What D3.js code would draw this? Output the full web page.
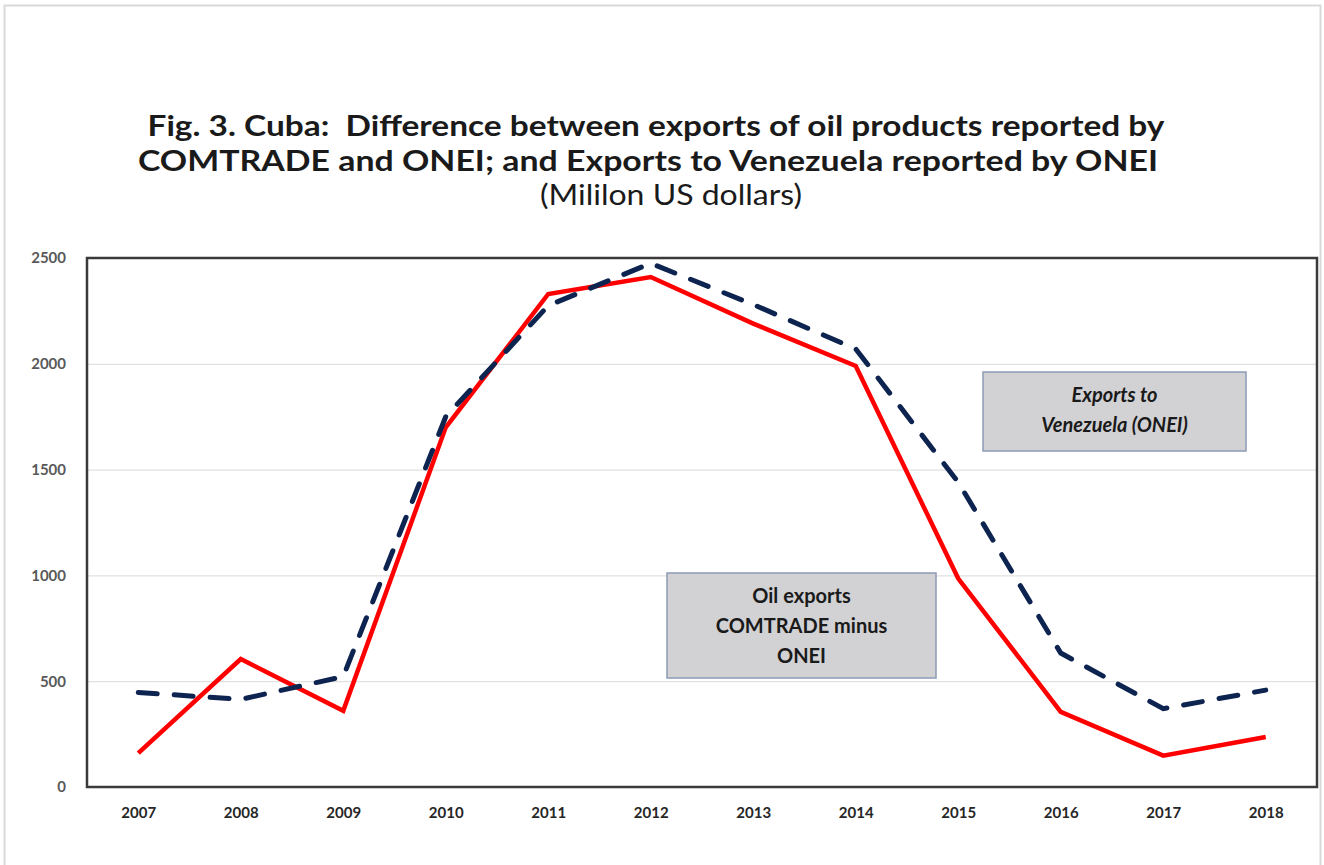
<!DOCTYPE html>
<html>
<head>
<meta charset="utf-8">
<script src="https://cdn.jsdelivr.net/npm/d3@7/dist/d3.min.js"></script>
<style>
  body { margin: 0; background: #fff; }
  svg { display: block; font-family: Lato, "Open Sans", sans-serif; }
  .title text { white-space: pre; }
</style>
</head>
<body>
<svg id="chart" width="1324" height="865"></svg>
<script>
// values (million US dollars)
const YEARS = ['2007', '2008', '2009', '2010', '2011', '2012', '2013', '2014', '2015', '2016', '2017', '2018'];
const OIL_DIFF = [160, 605, 360, 1700, 2330, 2410, 2190, 1990, 985, 355, 148, 236];
const VENEZUELA = [447, 414, 522, 1750, 2275, 2475, 2280, 2070, 1440, 633, 370, 458];
const Y_TICKS = [0, 500, 1000, 1500, 2000, 2500];
const TITLE_LINES = [
  'Fig. 3. Cuba:\u00a0 Difference between exports of oil products reported by',
  'COMTRADE and ONEI; and Exports to Venezuela reported by ONEI'
];
const SUBTITLE = '(Mililon US dollars)';
const NOTE_VEN = ['Exports to', 'Venezuela (ONEI)'];
const NOTE_OIL = ['Oil exports', 'COMTRADE minus', 'ONEI'];

function renderChart() {
  const svg = d3.select('#chart');
  const plot = { left: 87, top: 258, right: 1317, bottom: 787 };

  // outer border of the figure
  svg.append('rect')
    .attr('x', 4.5).attr('y', 5.5)
    .attr('width', 1316).attr('height', 870)
    .attr('fill', 'none')
    .attr('stroke', '#d9d9d9')
    .attr('stroke-width', 2);

  // title
  const title = svg.append('g').classed('title', true)
    .attr('text-anchor', 'middle').attr('fill', '#1a1a1a');
  title.append('text')
    .attr('x', 656).attr('y', 136)
    .attr('font-size', 28).attr('font-weight', 'bold')
    .attr('textLength', 1017).attr('lengthAdjust', 'spacingAndGlyphs')
    .text(TITLE_LINES[0]);
  title.append('text')
    .attr('x', 648).attr('y', 171)
    .attr('font-size', 28).attr('font-weight', 'bold')
    .attr('textLength', 1020).attr('lengthAdjust', 'spacingAndGlyphs')
    .text(TITLE_LINES[1]);
  title.append('text')
    .attr('x', 671).attr('y', 205)
    .attr('font-size', 28)
    .attr('textLength', 262).attr('lengthAdjust', 'spacingAndGlyphs')
    .text(SUBTITLE);

  const x = d3.scalePoint()
    .domain(YEARS)
    .range([plot.left, plot.right])
    .padding(0.5);
  const y = d3.scaleLinear()
    .domain([0, 2500])
    .range([plot.bottom, plot.top]);

  // gridlines
  svg.append('g').classed('grid', true)
    .selectAll('line').data(Y_TICKS.slice(1, -1))
    .enter().append('line')
    .attr('x1', plot.left).attr('x2', plot.right)
    .attr('y1', d => y(d) + 0.5).attr('y2', d => y(d) + 0.5)
    .attr('stroke', '#d9d9d9')
    .attr('stroke-width', 1);

  // y axis labels
  const yAxis = svg.append('g')
    .attr('transform', `translate(${plot.left - 21},0)`)
    .call(d3.axisLeft(y).tickValues(Y_TICKS).tickFormat(d3.format('d')).tickSize(0).tickPadding(0));
  yAxis.select('.domain').remove();
  yAxis.selectAll('text')
    .attr('font-family', 'Lato, sans-serif')
    .attr('font-size', 15).attr('font-weight', 'bold')
    .attr('fill', '#595959');

  // x axis labels
  const xAxis = svg.append('g')
    .attr('transform', `translate(0,${plot.bottom + 20})`)
    .call(d3.axisBottom(x).tickSize(0).tickPadding(0));
  xAxis.select('.domain').remove();
  xAxis.selectAll('text')
    .attr('font-family', 'Lato, sans-serif')
    .attr('font-size', 15).attr('font-weight', 'bold')
    .attr('fill', '#262626');

  const line = d3.line()
    .x((d, i) => x(YEARS[i]))
    .y(d => y(d));

  svg.append('path')
    .datum(OIL_DIFF)
    .attr('d', line)
    .attr('fill', 'none')
    .attr('stroke', '#ff0000')
    .attr('stroke-width', 4.5)
    .attr('stroke-linejoin', 'miter');

  svg.append('path')
    .datum(VENEZUELA)
    .attr('d', line)
    .attr('fill', 'none')
    .attr('stroke', '#0e2450')
    .attr('stroke-width', 5)
    .attr('stroke-linecap', 'round')
    .attr('stroke-dasharray', '19,17');

  // plot frame
  svg.append('rect')
    .attr('x', plot.left).attr('y', plot.top)
    .attr('width', plot.right - plot.left)
    .attr('height', plot.bottom - plot.top)
    .attr('fill', 'none')
    .attr('stroke', '#3a3a3a')
    .attr('stroke-width', 2.5);

  // annotation boxes
  function note(bx, by, bw, bh, lines, italic, firstY) {
    const g = svg.append('g');
    g.append('rect')
      .attr('x', bx).attr('y', by)
      .attr('width', bw).attr('height', bh)
      .attr('fill', '#d2d2d5')
      .attr('stroke', '#8c9bb5')
      .attr('stroke-width', 1.5);
    g.selectAll('text').data(lines)
      .enter().append('text')
      .attr('x', bx + bw / 2)
      .attr('y', (d, i) => firstY + i * 30)
      .attr('text-anchor', 'middle')
      .attr('font-size', 20)
      .attr('font-weight', 'bold')
      .attr('font-style', italic ? 'italic' : 'normal')
      .attr('fill', '#1a1a1a')
      .text(d => d);
  }
  note(983, 372, 263, 79, NOTE_VEN, true, 402);
  note(667, 573, 269, 105, NOTE_OIL, false, 603);
}

renderChart();
</script>
</body>
</html>
